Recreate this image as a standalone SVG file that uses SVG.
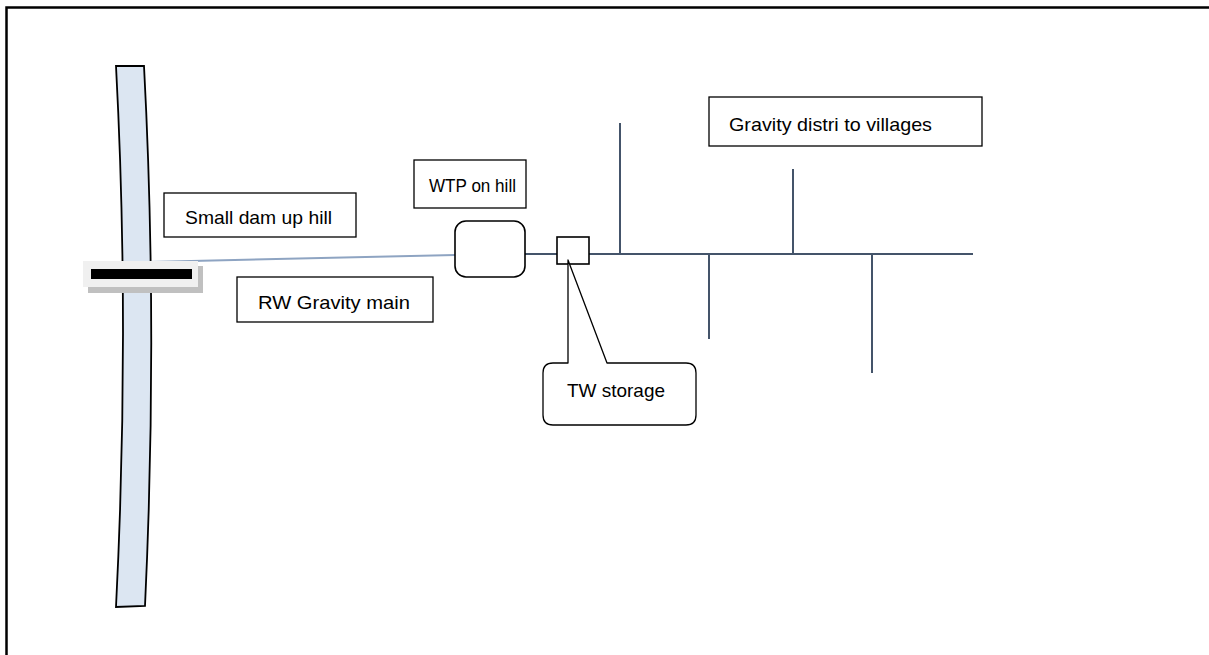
<svg xmlns="http://www.w3.org/2000/svg" width="1209" height="655" viewBox="0 0 1209 655">
  <style>
    .label { fill: #fff; stroke: #000; stroke-width: 1.3; }
    .txt { font-family: "Liberation Sans", Arial, sans-serif; font-size: 19px; fill: #000; }
    .dist { stroke: #44546a; stroke-width: 2; fill: none; }
    .outline { fill: #fff; stroke: #000; stroke-width: 1.6; }
  </style>

  <rect x="0" y="0" width="1209" height="655" fill="#fff"/>
  <!-- page frame -->
  <rect x="6.5" y="7.5" width="1400" height="1000" fill="none" stroke="#000" stroke-width="2.5"/>

  <!-- river -->
  <g id="river">
    <path d="M116,66 L144,66 Q158,330 145,606 L116,607 Q130,330 116,66 Z" fill="#dce6f2" stroke="#000" stroke-width="1.8"/>
  </g>

  <!-- connectors -->
  <g id="connectors">
    <line x1="148" y1="262" x2="455" y2="255" stroke="#8ea4c2" stroke-width="2"/>
    <line x1="525" y1="254" x2="557" y2="254" class="dist"/>
    <line x1="589" y1="254" x2="973" y2="254" class="dist"/>
    <line x1="620" y1="123" x2="620" y2="254" class="dist"/>
    <line x1="793" y1="169" x2="793" y2="254" class="dist"/>
    <line x1="709" y1="254" x2="709" y2="339" class="dist"/>
    <line x1="872" y1="254" x2="872" y2="373" class="dist"/>
  </g>

  <!-- dam across the river -->
  <g id="dam">
    <rect x="88" y="266" width="115" height="27" fill="#c0c0c0"/>
    <rect x="83" y="261" width="115" height="26" fill="#f0f0f0"/>
    <rect x="91" y="269" width="101" height="10" fill="#000"/>
  </g>

  <g id="wtp">
    <rect x="455" y="221" width="70" height="56" rx="11" class="outline"/>
  </g>

  <g id="storage">
    <rect x="557" y="237" width="32" height="27" class="outline"/>
  </g>

  <g id="label-dam">
    <rect x="164" y="193" width="192" height="44" class="label"/>
    <text x="185" y="224" class="txt" textLength="147" lengthAdjust="spacingAndGlyphs">Small dam up hill</text>
  </g>

  <g id="label-main">
    <rect x="237" y="277" width="196" height="45" class="label"/>
    <text x="258" y="309" class="txt" textLength="152" lengthAdjust="spacingAndGlyphs">RW Gravity main</text>
  </g>

  <g id="label-wtp">
    <rect x="414" y="160" width="112" height="48" class="label"/>
    <text x="429" y="192" class="txt" textLength="87" lengthAdjust="spacingAndGlyphs">WTP on hill</text>
  </g>

  <g id="label-distribution">
    <rect x="709" y="97" width="273" height="49" class="label"/>
    <text x="729" y="131" class="txt" textLength="203" lengthAdjust="spacingAndGlyphs">Gravity distri to villages</text>
  </g>

  <!-- callout pointing at the storage tank -->
  <g id="label-storage">
    <path d="M568,363 L568,260 L607,363 L686,363 Q696,363 696,373 L696,415 Q696,425 686,425 L553,425 Q543,425 543,415 L543,373 Q543,363 553,363 Z" fill="#fff" stroke="#000" stroke-width="1.3" stroke-linejoin="round"/>
    <text x="567" y="397" class="txt" textLength="98" lengthAdjust="spacingAndGlyphs">TW storage</text>
  </g>
</svg>
